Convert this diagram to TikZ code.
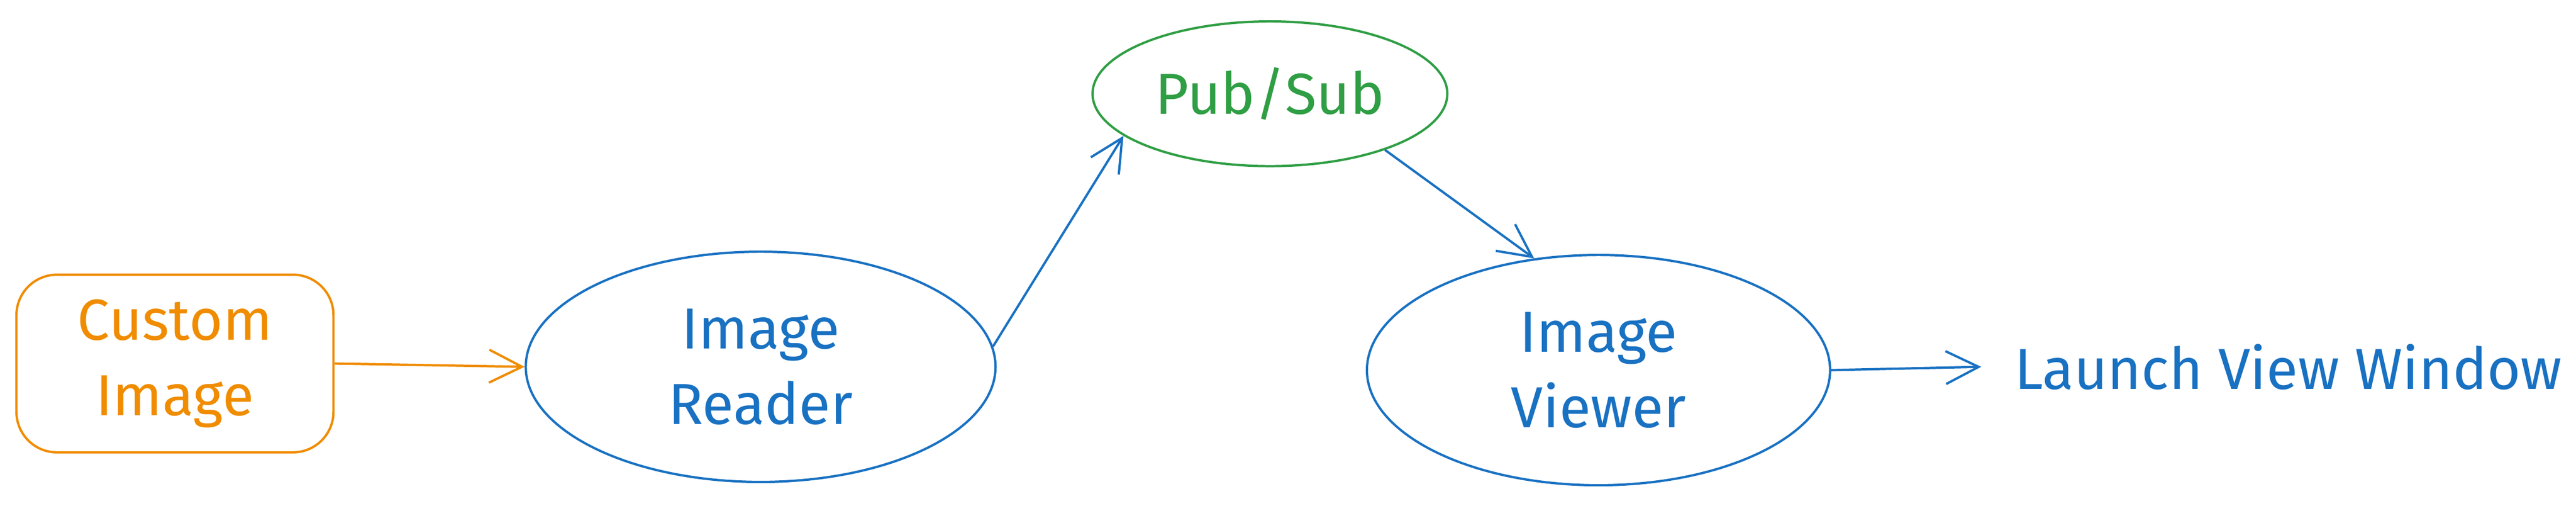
\documentclass[tikz,border=0pt]{standalone}
\usepackage{fontspec}
\setmainfont{Fira Sans}
\usetikzlibrary{shapes.geometric,positioning,arrows.meta}
\definecolor{ink}{HTML}{1971C2}
\definecolor{orng}{HTML}{F08C00}
\definecolor{grn}{HTML}{2F9E44}
\tikzset{
  blob/.style={ellipse, draw=#1, text=#1, thick, align=center, font=\fontsize{20}{26}\selectfont},
  box/.style={rectangle, rounded corners=14pt, draw=orng, text=orng, thick, align=center, font=\fontsize{20}{26}\selectfont},
  link/.style={-{Straight Barb[length=4mm,width=4mm]}, thick, draw=#1}
}
\begin{document}
\begin{tikzpicture}[x=0.02cm,y=-0.02cm]
\useasboundingbox (0,0) rectangle (1568,307.6);
\node(CI)[box, minimum width=3.86cm, minimum height=2.16cm] at (106.5,221) {Custom\\Image};
\node(IR)[blob=ink, minimum width=5.72cm, minimum height=2.8cm] at (463,223) {Image\\Reader};
\node(PS)[blob=grn, minimum width=4.32cm, minimum height=1.76cm] at (773,57) {Pub/Sub};
\node(IV)[blob=ink, minimum width=5.64cm, minimum height=2.8cm] at (973,225) {Image\\Viewer};
\node(LV)[text=ink, font=\fontsize{20}{26}\selectfont, anchor=west] at (1220,223) {Launch View Window};
\draw[link=orng] (CI.east) -- (IR.west);
\draw[link=ink] (IR.5) -- (PS.196);
\draw[link=ink] (PS.-26) -- (IV.120);
\draw[link=ink] (IV.east) -- ([xshift=-8pt]LV.west);
\end{tikzpicture}
\end{document}
